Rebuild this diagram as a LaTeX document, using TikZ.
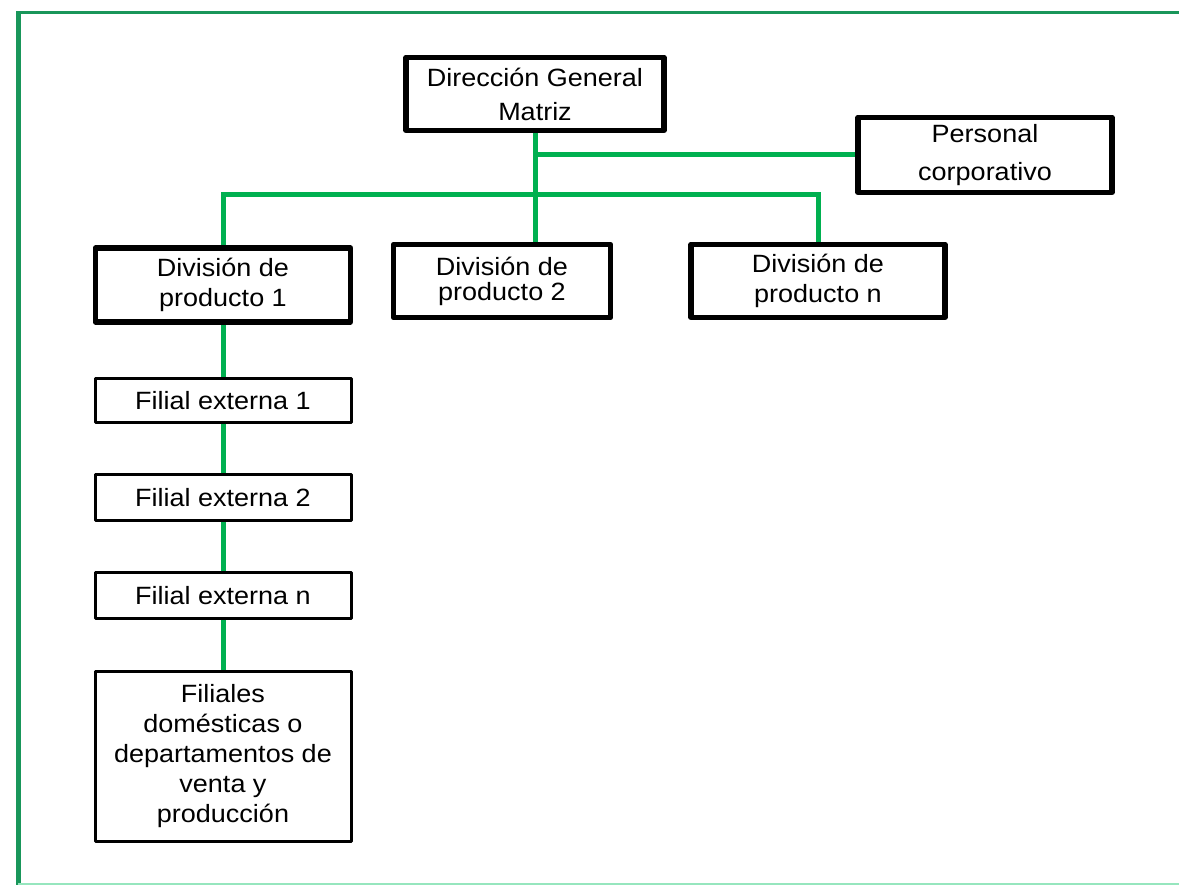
\documentclass[tikz,border=0pt]{standalone}
\usepackage{fontspec}
\setmainfont{Liberation Sans}[FakeStretch=1.08]
\usetikzlibrary{backgrounds}

\definecolor{linkgreen}{RGB}{0,176,80}
\definecolor{framegreen}{RGB}{25,150,90}
\definecolor{framelight}{RGB}{150,230,190}

\tikzset{
  orgbox/.style={draw=black, line width=5.5pt, line join=round, fill=white,
    align=center, inner sep=0pt, font=\fontsize{25}{31}\selectfont},
  thinbox/.style={orgbox, line width=3pt},
  link/.style={draw=linkgreen, line width=5pt},
  lsp/.style={font=\fontsize{25}{#1}\selectfont}
}

\begin{document}
\begin{tikzpicture}[x=1pt, y=-1pt]
\useasboundingbox (0,0) rectangle (1179,885);

% outer frame
\draw[framegreen, line width=5pt] (18,885) -- (18,12);
\draw[framegreen, line width=3pt] (16,13) -- (1179,13);
\draw[framelight, line width=2pt] (18,884) -- (1179,884);

% boxes
\node[orgbox, lsp=34, minimum width=258pt, minimum height=73pt] (dir) at (535,94) {Dirección General\\Matriz};
\node[orgbox, lsp=38, minimum width=254pt, minimum height=75pt] (pers) at (985,155) {Personal\\corporativo};
\node[orgbox, lsp=30, minimum width=255pt, minimum height=74pt] (div1) at (223,285) {División de\\producto 1};
\node[orgbox, lsp=25, minimum width=217pt, minimum height=73pt] (div2) at (502,281) {División de\\producto 2};
\node[orgbox, lsp=30, minimum width=254pt, minimum height=73pt] (divn) at (818,281) {División de\\producto n};
\node[thinbox, minimum width=256pt, minimum height=44pt] (f1) at (223,401) {Filial externa 1};
\node[thinbox, minimum width=256pt, minimum height=46pt] (f2) at (223,497.5) {Filial externa 2};
\node[thinbox, minimum width=256pt, minimum height=46pt] (fn) at (223,595.5) {Filial externa n};
\node[thinbox, lsp=30, minimum width=256pt, minimum height=170pt] (fd) at (223,756.5) {Filiales\\domésticas o\\departamentos de\\venta y\\producción};

% connectors
\coordinate (bus) at (0,195);
\begin{scope}[on background layer]
  \draw[link] (dir.south) -- (dir.south |- div2.north);
  \draw[link] (pers.west) -- (pers.west -| dir.south);
  \draw[link] (div1.north) |- (bus -| divn.north) -- (divn.north);
  \draw[link] (div1.south) -- (f1.north);
  \draw[link] (f1.south) -- (f2.north);
  \draw[link] (f2.south) -- (fn.north);
  \draw[link] (fn.south) -- (fd.north);
\end{scope}
\end{tikzpicture}
\end{document}
